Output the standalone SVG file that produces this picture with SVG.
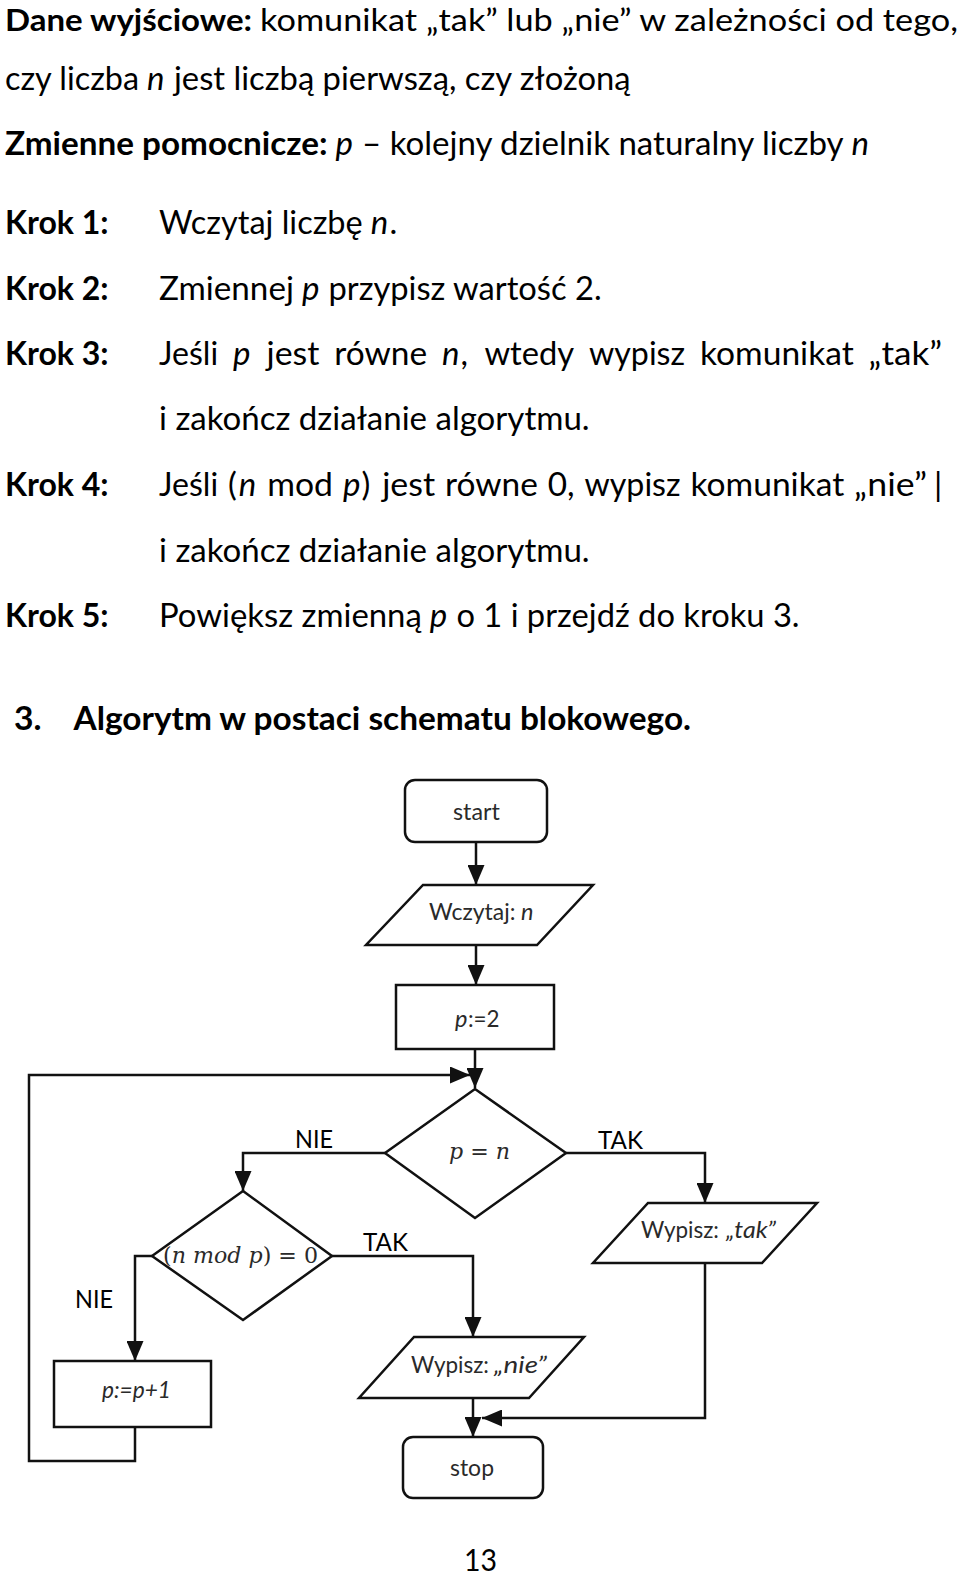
<svg xmlns="http://www.w3.org/2000/svg" width="960" height="1577" viewBox="0 0 960 1577">
<style>
.t{font-family:Lato,"Open Sans",sans-serif;font-size:33px;fill:#000}
.b{font-weight:700}
.i{font-style:italic}
.f{font-family:Lato,"Open Sans",sans-serif;font-size:23.5px;fill:#2a2a2a}
.l{font-family:Lato,"Open Sans",sans-serif;font-size:25.5px;fill:#000}
.m{font-family:"DejaVu Serif","Liberation Serif",serif;font-size:22px;fill:#2a2a2a}
.n{fill:#fff;stroke:#111;stroke-width:2.5}
.c{fill:none;stroke:#111;stroke-width:2.5}
</style>
<defs>
<marker id="ah" viewBox="0 0 20 17" refX="20" refY="8.5" markerWidth="20" markerHeight="17" markerUnits="userSpaceOnUse" orient="auto">
<path d="M0,0 L20,8.5 L0,17 z" fill="#111"/>
</marker>
</defs>
<rect width="960" height="1577" fill="#fff"/>

<g id="text">
<text class="t b" x="5" y="31" style="font-size:31px" textLength="247" lengthAdjust="spacingAndGlyphs">Dane wyjściowe:</text>
<text class="t" x="260" y="31" style="font-size:31px" textLength="698" lengthAdjust="spacingAndGlyphs">komunikat „tak” lub „nie” w zależności od tego,</text>

<text class="t" x="5" y="90" textLength="134" lengthAdjust="spacingAndGlyphs">czy liczba</text>
<text class="t i" x="147" y="90">n</text>
<text class="t" x="174" y="90" textLength="456.6" lengthAdjust="spacingAndGlyphs">jest liczbą pierwszą, czy złożoną</text>

<text class="t b" x="5" y="155" textLength="322.5" lengthAdjust="spacingAndGlyphs">Zmienne pomocnicze:</text>
<text class="t i" x="335.5" y="155">p</text>
<text class="t" x="362" y="155" textLength="481.6" lengthAdjust="spacingAndGlyphs">– kolejny dzielnik naturalny liczby</text>
<text class="t i" x="851.6" y="155">n</text>

<text class="t b" x="5" y="234" textLength="103.6" lengthAdjust="spacingAndGlyphs">Krok 1:</text>
<text class="t" x="159" y="234" textLength="203.7" lengthAdjust="spacingAndGlyphs">Wczytaj liczbę</text>
<text class="t i" x="370.8" y="234">n</text>
<text class="t" x="389.4" y="234">.</text>

<text class="t b" x="5" y="300" textLength="103.6" lengthAdjust="spacingAndGlyphs">Krok 2:</text>
<text class="t" x="159" y="300" textLength="134.9" lengthAdjust="spacingAndGlyphs">Zmiennej</text>
<text class="t i" x="301.9" y="300">p</text>
<text class="t" x="328.5" y="300" textLength="273.1" lengthAdjust="spacingAndGlyphs">przypisz wartość 2.</text>

<text class="t b" x="5" y="365" textLength="103.6" lengthAdjust="spacingAndGlyphs">Krok 3:</text>
<text class="t" x="159" y="365" textLength="59.1" lengthAdjust="spacingAndGlyphs">Jeśli</text>
<text class="t i" x="233" y="365">p</text>
<text class="t" x="266.5" y="365" textLength="52.9" lengthAdjust="spacingAndGlyphs">jest</text>
<text class="t" x="334.3" y="365" textLength="92.8" lengthAdjust="spacingAndGlyphs">równe</text>
<text class="t i" x="442" y="365">n</text>
<text class="t" x="460.6" y="365">,</text>
<text class="t" x="484.4" y="365" textLength="89.7" lengthAdjust="spacingAndGlyphs">wtedy</text>
<text class="t" x="589" y="365" textLength="96.1" lengthAdjust="spacingAndGlyphs">wypisz</text>
<text class="t" x="700" y="365" textLength="153.7" lengthAdjust="spacingAndGlyphs">komunikat</text>
<text class="t" x="868.6" y="365" textLength="73.5" lengthAdjust="spacingAndGlyphs">„tak”</text>
<text class="t" x="159" y="430" textLength="430.6" lengthAdjust="spacingAndGlyphs">i zakończ działanie algorytmu.</text>

<text class="t b" x="5" y="496" textLength="103.6" lengthAdjust="spacingAndGlyphs">Krok 4:</text>
<text class="t" x="159" y="496" textLength="59.1" lengthAdjust="spacingAndGlyphs">Jeśli</text>
<text class="t" x="228" y="496">(</text>
<text class="t i" x="238.8" y="496">n</text>
<text class="t" x="267.3" y="496" textLength="65.7" lengthAdjust="spacingAndGlyphs">mod</text>
<text class="t i" x="342.9" y="496">p</text>
<text class="t" x="361.5" y="496">)</text>
<text class="t" x="382.2" y="496" textLength="52.9" lengthAdjust="spacingAndGlyphs">jest</text>
<text class="t" x="445" y="496" textLength="92.8" lengthAdjust="spacingAndGlyphs">równe</text>
<text class="t" x="547.7" y="496" textLength="26.9" lengthAdjust="spacingAndGlyphs">0,</text>
<text class="t" x="584.5" y="496" textLength="96.1" lengthAdjust="spacingAndGlyphs">wypisz</text>
<text class="t" x="690.5" y="496" textLength="153.7" lengthAdjust="spacingAndGlyphs">komunikat</text>
<text class="t" x="854.1" y="496" textLength="72.9" lengthAdjust="spacingAndGlyphs">„nie”</text>
<text class="t" x="934" y="496">|</text>
<text class="t" x="159" y="562" textLength="430.6" lengthAdjust="spacingAndGlyphs">i zakończ działanie algorytmu.</text>

<text class="t b" x="5" y="627" textLength="103.6" lengthAdjust="spacingAndGlyphs">Krok 5:</text>
<text class="t" x="159" y="627" textLength="262.8" lengthAdjust="spacingAndGlyphs">Powiększ zmienną</text>
<text class="t i" x="429.8" y="627">p</text>
<text class="t" x="456.4" y="627" textLength="343.2" lengthAdjust="spacingAndGlyphs">o 1 i przejdź do kroku 3.</text>

<text class="t b" x="14" y="730" textLength="27.5" lengthAdjust="spacingAndGlyphs">3.</text>
<text class="t b" x="73.5" y="730" textLength="617.5" lengthAdjust="spacingAndGlyphs">Algorytm w postaci schematu blokowego.</text>

<text class="t" x="464" y="1571" style="font-size:31px" textLength="33" lengthAdjust="spacingAndGlyphs">13</text>
</g>

<g id="connectors">
<line class="c" x1="476" y1="842" x2="476" y2="885" marker-end="url(#ah)"/>
<line class="c" x1="476" y1="945" x2="476" y2="985" marker-end="url(#ah)"/>
<line class="c" x1="475" y1="1049" x2="475" y2="1088" marker-end="url(#ah)"/>
<polyline class="c" points="135,1427 135,1461 29,1461 29,1075 470,1075" marker-end="url(#ah)"/>
<polyline class="c" points="385,1153 243,1153 243,1191" marker-end="url(#ah)"/>
<polyline class="c" points="566,1153 705,1153 705,1203" marker-end="url(#ah)"/>
<polyline class="c" points="332,1256 473,1256 473,1337" marker-end="url(#ah)"/>
<polyline class="c" points="152,1256 135,1256 135,1361" marker-end="url(#ah)"/>
<polyline class="c" points="705,1263 705,1418 482,1418" marker-end="url(#ah)"/>
<line class="c" x1="473" y1="1398" x2="473" y2="1437" marker-end="url(#ah)"/>
<text class="l" x="295" y="1148" textLength="38" lengthAdjust="spacingAndGlyphs">NIE</text>
<text class="l" x="598" y="1149" textLength="45" lengthAdjust="spacingAndGlyphs">TAK</text>
<text class="l" x="363" y="1251" textLength="45" lengthAdjust="spacingAndGlyphs">TAK</text>
<text class="l" x="75" y="1308" textLength="38" lengthAdjust="spacingAndGlyphs">NIE</text>
</g>

<g id="start">
<rect class="n" x="405" y="780" width="142" height="62" rx="10"/>
<text class="f" x="453" y="820" textLength="46.8" lengthAdjust="spacingAndGlyphs">start</text>
</g>

<g id="read">
<polygon class="n" points="423,885 593,885 537,945 366,945"/>
<text class="f" x="429" y="920" textLength="86.4" lengthAdjust="spacingAndGlyphs">Wczytaj:</text>
<text class="f i" x="521" y="920">n</text>
</g>

<g id="init">
<rect class="n" x="396" y="985" width="158" height="64"/>
<text class="f i" x="455" y="1027">p</text>
<text class="f" x="468" y="1027" textLength="31.6" lengthAdjust="spacingAndGlyphs">:=2</text>
</g>

<g id="cond1">
<polygon class="n" points="475,1089 566,1153 475,1218 385,1153"/>
<text class="m" x="449" y="1159" textLength="61" lengthAdjust="spacingAndGlyphs"><tspan font-style="italic">p</tspan> = <tspan font-style="italic">n</tspan></text>
</g>

<g id="cond2">
<polygon class="n" points="243,1191 332,1256 243,1320 152,1256"/>
<text class="m" x="163" y="1263" textLength="155" lengthAdjust="spacingAndGlyphs">(<tspan font-style="italic">n mod p</tspan>) = 0</text>
</g>

<g id="out-tak">
<polygon class="n" points="648,1203 817,1203 762,1263 593,1263"/>
<text class="f" x="641" y="1238" textLength="78" lengthAdjust="spacingAndGlyphs">Wypisz:</text>
<text class="f i" x="726" y="1238" textLength="50" lengthAdjust="spacingAndGlyphs">„tak”</text>
</g>

<g id="out-nie">
<polygon class="n" points="414,1337 584,1337 529,1398 359,1398"/>
<text class="f" x="411" y="1373" textLength="78" lengthAdjust="spacingAndGlyphs">Wypisz:</text>
<text class="f i" x="494" y="1373" textLength="53" lengthAdjust="spacingAndGlyphs">„nie”</text>
</g>

<g id="inc">
<rect class="n" x="54" y="1361" width="157" height="66"/>
<text class="f i" x="102" y="1398" textLength="69" lengthAdjust="spacingAndGlyphs">p:=p+1</text>
</g>

<g id="stop">
<rect class="n" x="403" y="1437" width="140" height="61" rx="10"/>
<text class="f" x="450" y="1476" textLength="44" lengthAdjust="spacingAndGlyphs">stop</text>
</g>
</svg>
